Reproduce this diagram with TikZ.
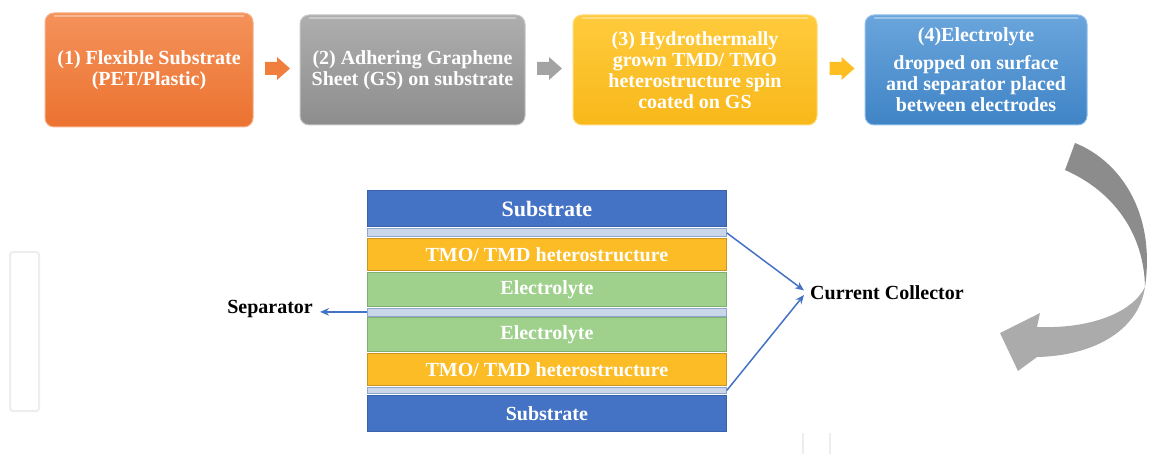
\documentclass[tikz,border=0pt]{standalone}
\usepackage{fontspec}
\setmainfont{Liberation Serif}
\usetikzlibrary{arrows.meta,calc}
\definecolor{oT}{HTML}{F4925A}\definecolor{oB}{HTML}{EC7230}\definecolor{oE}{HTML}{F6B088}
\definecolor{gT}{HTML}{AEAEAE}\definecolor{gB}{HTML}{8D8D8D}\definecolor{gE}{HTML}{C6C6C6}
\definecolor{yT}{HTML}{FFCB3C}\definecolor{yB}{HTML}{F8B81A}\definecolor{yE}{HTML}{FFDB7A}
\definecolor{bT}{HTML}{6AA5DC}\definecolor{bB}{HTML}{3F84C6}\definecolor{bE}{HTML}{96C0E8}
\definecolor{arrO}{HTML}{F07E3C}\definecolor{arrG}{HTML}{A3A3A3}\definecolor{arrY}{HTML}{FDBE22}
\definecolor{subB}{HTML}{4472C4}\definecolor{subE}{HTML}{3A62A8}
\definecolor{gsB}{HTML}{CAD7EB}\definecolor{gsE}{HTML}{8EA6CC}
\definecolor{tmoO}{HTML}{FBBC25}\definecolor{tmoE}{HTML}{C99420}
\definecolor{elG}{HTML}{9FD18D}\definecolor{elE}{HTML}{7FAE70}
\definecolor{conn}{HTML}{4472C4}
\definecolor{crvD}{HTML}{8C8C8C}\definecolor{crvL}{HTML}{ABABAB}
\begin{document}
\begin{tikzpicture}[x=1pt,y=-1pt,
  stepbox/.style={rounded corners=9, line width=1, text=white, align=center,
    inner sep=0, font=\bfseries\fontsize{20}{21}\selectfont},
  layer/.style={draw, line width=0.8, minimum width=359, inner sep=0,
    anchor=north west, text=white, font=\bfseries\fontsize{20}{24}\selectfont},
  lbl/.style={inner sep=0, text=black, font=\bfseries\fontsize{20}{24}\selectfont},
  conline/.style={draw=conn, line width=1.5, -{Stealth[length=9pt,width=7.5pt]}},
  blockarrow/.pic={\fill (0,-6.5) -- (12,-6.5) -- (12,-11.5) -- (25,0) -- (12,11.5) -- (12,6.5) -- (0,6.5) -- cycle;}
]
\useasboundingbox (0,0) rectangle (1150,454);

% top process boxes
\node[stepbox, top color=oT, bottom color=oB, draw=oE, minimum width=208, minimum height=114] (b1) at (149,70)
  {(1) Flexible Substrate\\(PET/Plastic)};
\node[stepbox, top color=gT, bottom color=gB, draw=gE, minimum width=225, minimum height=110] (b2) at (412.5,70)
  {(2) Adhering Graphene\\Sheet (GS) on substrate};
\node[stepbox, top color=yT, bottom color=yB, draw=yE, minimum width=244, minimum height=110] (b3) at (695,70)
  {(3) Hydrothermally\\grown TMD/ TMO\\heterostructure spin\\coated on GS};
\node[stepbox, top color=bT, bottom color=bB, draw=bE, minimum width=222, minimum height=110] (b4) at (976,70)
  {(4)Electrolyte\\[7pt]dropped on surface\\and separator placed\\between electrodes};
\foreach \b in {b1,b2,b3,b4}
  \draw[white, opacity=0.35, line width=2, line cap=round]
    ($(\b.north west)+(10,4)$) -- ($(\b.north east)+(-10,4)$);

% block arrows between boxes
\pic[arrO] at (265,68.5) {blockarrow};
\pic[arrG] at (537,68.5) {blockarrow};
\pic[arrY] at (829.5,68.5) {blockarrow};

% curved arrow
\fill[crvD] (1075,143) .. controls (1118,160) and (1156,210) .. (1145,287)
  .. controls (1144,235) and (1115,192) .. (1065,170) -- cycle;
\fill[crvL] (1145,287) .. controls (1138,333) and (1090,356) .. (1037,357)
  -- (1018,371) -- (1000,333) -- (1040,313) -- (1037,327)
  .. controls (1090,329) and (1132,313) .. (1145,287) -- cycle;

% layered stack
\node[layer, fill=subB, draw=subE, minimum height=36.5, font=\bfseries\fontsize{22}{26}\selectfont] (sub1) at (367,190) {Substrate};
\node[layer, fill=gsB, draw=gsE, minimum height=8] (gs1) at (367,228.5) {};
\node[layer, fill=tmoO, draw=tmoE, minimum height=31.5] (tmo1) at (367,238.5) {TMO/ TMD heterostructure};
\node[layer, fill=elG, draw=elE, minimum height=34] (el1) at (367,272) {Electrolyte};
\node[layer, fill=gsB, draw=gsE, minimum height=8] (sep) at (367,307.5) {};
\node[layer, fill=elG, draw=elE, minimum height=33.4] (el2) at (367,317.3) {Electrolyte};
\node[layer, fill=tmoO, draw=tmoE, minimum height=32.3] (tmo2) at (367,352.7) {TMO/ TMD heterostructure};
\node[layer, fill=gsB, draw=gsE, minimum height=6.6] (gs2) at (367,386.7) {};
\node[layer, fill=subB, draw=subE, minimum height=35.7] (sub2) at (367,395) {Substrate};

% labels
\node[lbl, anchor=east] (seplbl) at (313,309) {Separator};
\node[lbl, anchor=west] (cc) at (810,293) {Current Collector};

% connectors
\draw[conline] (sep.west) -- ($(sep.west -| seplbl.east)+(7,0)$);
\draw[conline] (gs1.east) -- ($(cc.west)+(-6,-2.5)$);
\draw[conline] (gs2.east) -- ($(cc.west)+(-6,2)$);

% faint marks
\draw[black!7, line width=2, rounded corners=3] (10,252) rectangle (39,411);
\draw[black!7, line width=1.5] (803,433) -- (803,454) (830,433) -- (830,454);
\end{tikzpicture}
\end{document}
